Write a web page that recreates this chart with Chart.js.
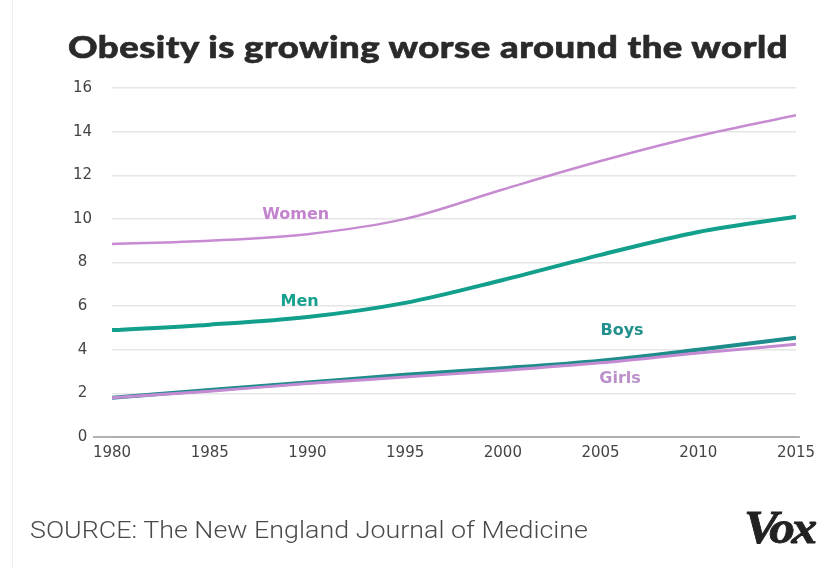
<!DOCTYPE html>
<html>
<head>
<meta charset="utf-8">
<script src="https://cdn.jsdelivr.net/npm/chart.js@4.4.1/dist/chart.umd.min.js"></script>
<style>
  html, body { margin: 0; padding: 0; background: #fff; }
  #wrap { position: relative; width: 830px; height: 568px; overflow: hidden; background: #fff; }
  #c { position: absolute; left: 0; top: 0; }
  .fit { position: absolute; white-space: nowrap; transform-origin: 0 0; }
  #title { left: 68px; top: 26px; font-family: Lato, "Open Sans", sans-serif; font-weight: 900; font-size: 30px; color: #2a2a2a; line-height: 40px; letter-spacing: 0.4px; -webkit-text-stroke: 0.6px #2a2a2a; }
  #source { left: 30px; top: 515px; font-family: Roboto, "Liberation Sans", sans-serif; font-weight: 300; font-size: 24px; color: #4a4a4a; line-height: 30px; }
  #vox { left: 744px; top: 503px; font-family: "Liberation Serif", serif; font-weight: 700; font-style: italic; font-size: 46px; color: #222; line-height: 50px; letter-spacing: -3px; -webkit-text-stroke: 0.8px #222; }
  #edge { position: absolute; left: 12px; top: 0; width: 1px; height: 568px; background: #edf2f7; }
</style>
</head>
<body>
<div id="wrap">
  <canvas id="c" width="830" height="568"></canvas>
  <div id="edge"></div>
  <div id="title" class="fit" data-w="720">Obesity is growing worse around the world</div>
  <div id="source" class="fit" data-w="558">SOURCE: The New England Journal of Medicine</div>
  <div id="vox" class="fit" data-w="70">Vox</div>
</div>
<script>
// ---- data ----
const years = [1980, 1985, 1990, 1995, 2000, 2005, 2010, 2015];
const women = [8.85, 9.0, 9.3, 10.0, 11.35, 12.65, 13.8, 14.75];
const men   = [4.9, 5.15, 5.5, 6.15, 7.2, 8.35, 9.4, 10.1];
const boys  = [1.8, 2.15, 2.5, 2.85, 3.15, 3.5, 4.0, 4.55];
const girls = [1.8, 2.1, 2.45, 2.75, 3.05, 3.4, 3.85, 4.25];
const yTicks = [0, 2, 4, 6, 8, 10, 12, 14, 16];
const xTicks = [1980, 1985, 1990, 1995, 2000, 2005, 2010, 2015];
const seriesNames = ["Women", "Men", "Boys", "Girls"];

// fit text widths
document.querySelectorAll('.fit').forEach(el => {
  const target = +el.dataset.w;
  const w = el.getBoundingClientRect().width;
  if (w > 0) el.style.transform = 'scaleX(' + (target / w) + ')';
});

const toPts = arr => years.map((y, i) => ({ x: y, y: arr[i] }));
const colors = { Women: '#c78bd1', Men: '#12a08c', Boys: '#1d8c8a', Girls: '#c48ad2' };
const labelColors = { Women: '#c383cf', Men: '#16a08e', Boys: '#22908c', Girls: '#bb8fca' };

const seriesLabels = {
  id: 'seriesLabels',
  afterDatasetsDraw(chart) {
    const { ctx, scales: { x, y } } = chart;
    const spots = [
      ['Women', 1989.4, 10.2],
      ['Men', 1989.6, 6.2],
      ['Boys', 2006.1, 4.85],
      ['Girls', 2006.0, 2.65]
    ];
    ctx.save();
    ctx.font = '700 16px "DejaVu Sans", sans-serif';
    ctx.textAlign = 'center';
    ctx.textBaseline = 'middle';
    spots.forEach(([n, xv, yv]) => {
      ctx.fillStyle = labelColors[n];
      ctx.fillText(n, x.getPixelForValue(xv), y.getPixelForValue(yv));
    });
    ctx.restore();
  }
};

const baseLine = {
  id: 'baseLine',
  beforeDatasetsDraw(chart) {
    const { ctx, chartArea, scales: { y } } = chart;
    const py = y.getPixelForValue(0);
    ctx.save();
    ctx.strokeStyle = '#9a9a9a';
    ctx.lineWidth = 1.5;
    ctx.beginPath();
    ctx.moveTo(chartArea.left - 19, py);
    ctx.lineTo(chartArea.right + 4, py);
    ctx.stroke();
    ctx.restore();
  }
};

const widths = { Women: 2.5, Men: 4, Boys: 4, Girls: 3 };
const order = ["Girls", "Boys", "Men", "Women"];
const dataMap = { Women: women, Men: men, Boys: boys, Girls: girls };
const tickFont = { family: '"DejaVu Sans", sans-serif', size: 15 };

new Chart(document.getElementById('c'), {
  type: 'line',
  data: {
    datasets: order.map(n => ({
      label: n,
      data: toPts(dataMap[n]),
      borderColor: colors[n],
      borderWidth: widths[n],
      pointRadius: 0,
      cubicInterpolationMode: 'monotone',
      fill: false
    }))
  },
  options: {
    responsive: false,
    animation: false,
    layout: { padding: { top: 88, right: 34, left: 0, bottom: 0 } },
    plugins: { legend: { display: false }, tooltip: { enabled: false }, title: { display: false } },
    scales: {
      x: {
        type: 'linear',
        min: 1980, max: 2015,
        afterFit(s) { s.height = 131; },
        afterBuildTicks(s) { s.ticks = xTicks.map(v => ({ value: v })); },
        grid: { display: false, drawTicks: false },
        border: { display: false },
        ticks: { padding: 7, color: '#444', font: tickFont, maxRotation: 0, autoSkip: false, callback: v => String(v) }
      },
      y: {
        min: 0, max: 16,
        afterFit(s) { s.width = 112; },
        afterBuildTicks(s) { s.ticks = yTicks.map(v => ({ value: v })); },
        grid: { color: '#e6e6e6', lineWidth: 1.5, drawTicks: false },
        border: { display: false },
        ticks: { padding: 20, crossAlign: 'center', color: '#444', font: tickFont, callback: v => String(v) }
      }
    }
  },
  plugins: [baseLine, seriesLabels]
});
</script>
</body>
</html>
